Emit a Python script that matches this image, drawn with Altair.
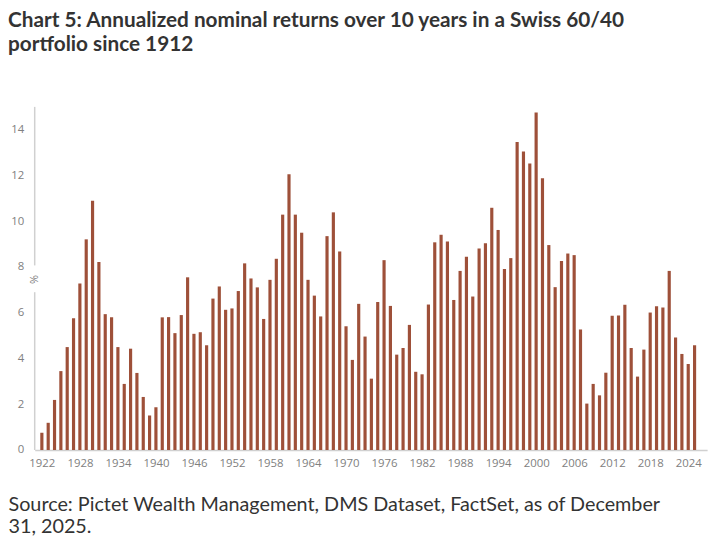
import altair as alt
import pandas as pd

years = list(range(1922, 2026))
returns = [
    0.76, 1.19, 2.19, 3.45, 4.50, 5.76, 7.28, 9.21, 10.90, 8.22,
    5.94, 5.80, 4.50, 2.89, 4.43, 3.37, 2.32, 1.51, 1.87, 5.80,
    5.81, 5.11, 5.90, 7.55, 5.08, 5.15, 4.58, 6.62, 7.15, 6.13,
    6.19, 6.95, 8.16, 7.50, 7.11, 5.73, 7.44, 8.36, 10.29, 12.06,
    10.29, 9.50, 7.44, 6.75, 5.84, 9.35, 10.39, 8.68, 5.41, 3.94,
    6.39, 4.96, 3.12, 6.47, 8.30, 6.30, 4.17, 4.46, 5.47, 3.42,
    3.31, 6.36, 9.08, 9.41, 9.12, 6.56, 7.83, 8.45, 6.71, 8.81,
    9.04, 10.59, 9.62, 7.91, 8.39, 13.47, 13.05, 12.53, 14.76, 11.88,
    8.96, 7.12, 8.26, 8.59, 8.52, 5.27, 2.03, 2.89, 2.39, 3.38,
    5.87, 5.88, 6.35, 4.46, 3.21, 4.39, 6.01, 6.29, 6.23, 7.83,
    4.92, 4.20, 3.76, 4.58,
]
x_ticks = list(range(1922, 2025, 6))
y_ticks = [0, 2, 4, 6, 8, 10, 12, 14]

title_lines = [
    "Chart 5: Annualized nominal returns over 10 years in a Swiss 60/40",
    "portfolio since 1912",
]
source_lines = [
    "Source: Pictet Wealth Management, DMS Dataset, FactSet, as of December",
    "31, 2025.",
]

df = pd.DataFrame({"year": years, "ret": returns})

W, H = 680, 347
BAR = "#9E5039"
AXIS = "#d0d0d0"
LABEL = "#808080"
FONT = "Open Sans"
TFONT = "Lato"

xscale = alt.Scale(domain=[1921.65, 2026.2], nice=False, zero=False)
yscale = alt.Scale(domain=[0, 15], nice=False)

bars = alt.Chart(df).mark_bar(size=3.2, color=BAR).encode(
    x=alt.X(
        "year:Q",
        scale=xscale,
        axis=alt.Axis(
            values=x_ticks,
            format="d",
            grid=False,
            ticks=False,
            tickSize=0,
            domainColor=AXIS,
            domainWidth=1.5,
            labelFont=FONT,
            labelFontSize=11.5,
            labelColor=LABEL,
            labelPadding=8,
            labelFlush=False,
            title=source_lines,
            titleFont=TFONT,
            titleFontSize=20,
            titleFontWeight="normal",
            titleColor="#333333",
            titleAnchor="start",
            titleAlign="left",
            titleBaseline="alphabetic",
            titleLineHeight=22.5,
            titleX=-27,
            titleY=61,
        ),
    ),
    y=alt.Y(
        "ret:Q",
        scale=yscale,
        axis=alt.Axis(
            values=y_ticks,
            grid=False,
            ticks=False,
            tickSize=0,
            domain=False,
            labelFont=FONT,
            labelFontSize=11.5,
            labelColor=LABEL,
            labelPadding=11,
            title="%",
            titleFont=FONT,
            titleFontSize=11,
            titleFontWeight="normal",
            titleColor=LABEL,
            titleAngle=270,
            titleAlign="center",
            titleBaseline="middle",
            titleX=0,
            titleY=174,
        ),
    ),
)

axis_low = alt.Chart().mark_rule(color=AXIS, strokeWidth=1.5).encode(
    x=alt.value(0), y=alt.datum(0, scale=yscale), y2=alt.datum(6.9)
)
axis_high = alt.Chart().mark_rule(color=AXIS, strokeWidth=1.5).encode(
    x=alt.value(0), y=alt.datum(8.07, scale=yscale), y2=alt.datum(15)
)

chart = (
    alt.layer(axis_low, axis_high, bars)
    .properties(
        width=W,
        height=H,
        autosize=alt.AutoSizeParams(type="none"),
        padding={"left": 27, "top": 97, "right": 10, "bottom": 90},
        title=alt.TitleParams(
            text=title_lines,
            anchor="start",
            frame="group",
            dx=-27,
            offset=52,
            font=TFONT,
            fontSize=21,
            fontWeight="bold",
            color="#333333",
            lineHeight=24,
        ),
    )
    .configure_view(stroke=None)
)

chart.save("out.html", embed_options={"renderer": "svg", "actions": False})
